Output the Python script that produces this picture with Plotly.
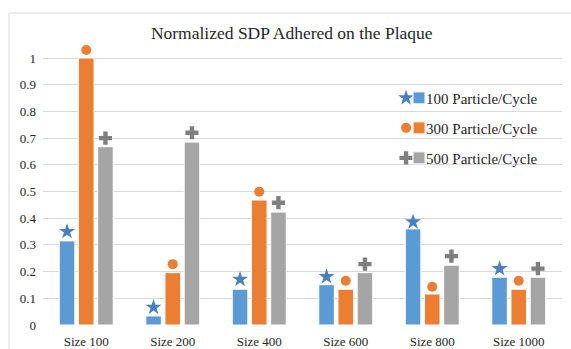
import plotly.graph_objects as go

categories = ["Size 100", "Size 200", "Size 400", "Size 600", "Size 800", "Size 1000"]
series_names = ["100 Particle/Cycle", "300 Particle/Cycle", "500 Particle/Cycle"]
bars_100 = [0.315, 0.034, 0.134, 0.151, 0.360, 0.179]
bars_300 = [1.000, 0.196, 0.468, 0.134, 0.116, 0.134]
bars_500 = [0.668, 0.685, 0.423, 0.196, 0.224, 0.179]
marks_100 = [0.350, 0.066, 0.171, 0.181, 0.386, 0.211]
marks_300 = [1.030, 0.228, 0.499, 0.166, 0.143, 0.166]
marks_500 = [0.700, 0.720, 0.458, 0.228, 0.258, 0.211]
y_ticks = [0, 0.1, 0.2, 0.3, 0.4, 0.5, 0.6, 0.7, 0.8, 0.9, 1]
y_tick_text = ["0", "0.1", "0.2", "0.3", "0.4", "0.5", "0.6", "0.7", "0.8", "0.9", "1"]

bar_colors = ["#5b9bd5", "#ed7d31", "#a5a5a5"]
mark_colors = ["#4a7fc1", "#ed7d31", "#7f7f7f"]
mark_symbols = ["star", "circle", "cross"]
mark_sizes = [12, 10, 11]

BARGAP = 0.334
BARGROUPGAP = 0.19
FONT = "Liberation Serif"
Y_TOP = 1.06

xpos = list(range(len(categories)))
slot = (1 - BARGAP) / 3

fig = go.Figure()
bar_series = [bars_100, bars_300, bars_500]
mark_series = [marks_100, marks_300, marks_500]
for k in range(3):
    fig.add_trace(go.Bar(
        x=xpos, y=bar_series[k], name="", legend="legend2",
        legendgroup="g%d" % k,
        marker=dict(color=bar_colors[k], line=dict(color="white", width=1)),
    ))
for k in range(3):
    fig.add_trace(go.Scatter(
        x=[p + (k - 1) * slot for p in xpos], y=mark_series[k],
        name=series_names[k], mode="markers", legend="legend",
        legendgroup="m%d" % k, cliponaxis=False,
        marker=dict(symbol=mark_symbols[k], color=mark_colors[k], size=mark_sizes[k]),
    ))

fig.update_layout(
    width=571, height=349,
    margin=dict(l=43, r=9, t=42, b=24, autoexpand=False),
    paper_bgcolor="white", plot_bgcolor="white",
    barmode="group", bargap=BARGAP, bargroupgap=BARGROUPGAP,
    font=dict(family=FONT, size=13, color="#404040"),
    title=dict(text="Normalized SDP Adhered on the Plaque", x=0.511, xanchor="center",
               y=0.905, yanchor="middle", font=dict(family=FONT, size=17.5, color="#262626")),
    xaxis=dict(range=[-0.5, len(categories) - 0.5], tickvals=xpos, ticktext=categories,
               showgrid=False, zeroline=False, showline=False, ticks="",
               ticklabelstandoff=7, automargin=False,
               tickfont=dict(family=FONT, size=13, color="#262626")),
    yaxis=dict(range=[0, Y_TOP], tickvals=y_ticks, ticktext=y_tick_text, showgrid=True,
               gridcolor="#d9d9d9", gridwidth=1, zeroline=False, showline=False, ticks="",
               ticklabelstandoff=6, automargin=False,
               tickfont=dict(family=FONT, size=13, color="#262626")),
    legend=dict(xref="paper", yref="paper", x=0.661, y=0.860, xanchor="left",
                yanchor="top", bgcolor="rgba(0,0,0,0)", tracegroupgap=7.5,
                font=dict(family=FONT, size=15, color="#262626")),
    legend2=dict(xref="paper", yref="paper", x=0.686, y=0.860, xanchor="left",
                 yanchor="top", bgcolor="rgba(0,0,0,0)", tracegroupgap=7.5,
                 font=dict(family=FONT, size=15, color="#262626")),
    shapes=[dict(type="rect", xref="paper", yref="paper", x0=-0.0655, x1=1.05,
                 y0=-0.2, y1=1.1025, line=dict(color="#d9d9d9", width=1),
                 fillcolor="rgba(0,0,0,0)", layer="below")],
)

fig.write_html("out.html")
